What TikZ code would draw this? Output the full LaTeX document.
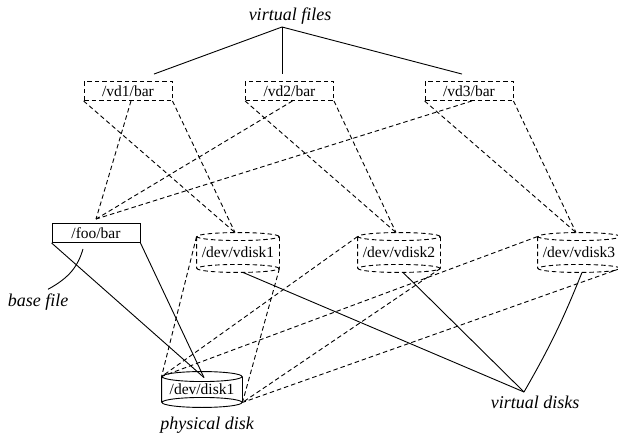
\documentclass[tikz,border=0pt]{standalone}
\usepackage{fontspec}
\setmainfont{Liberation Serif}
\newcommand\drawcyl[4]{%
  \draw[#4] (#1.north) ellipse[x radius=#2, y radius=#3]
                (#1.south) ellipse[x radius=#2, y radius=#3]
                (#1.north west) -- (#1.south west)
                (#1.north east) -- (#1.south east);}
\begin{document}
\begin{tikzpicture}[x=1pt,y=-1pt,line width=0.9pt,
  dsh/.style={dash pattern=on 4.5pt off 3pt},
  boxtext/.style={font=\fontsize{15.5}{17}\selectfont},
  lbl/.style={inner sep=0pt,font=\fontsize{18}{20}\selectfont\itshape},
  filebox/.style={boxtext,draw,minimum width=88pt,minimum height=19pt,inner sep=0pt},
  vfile/.style={filebox,dsh},
  cyl/.style={boxtext,inner sep=0pt,minimum height=31pt,minimum width=82pt},
  pcyl/.style={boxtext,inner sep=0pt,minimum height=25pt,minimum width=80pt},
  link/.style={dsh},
  solidlink/.style={}]
\useasboundingbox (0,0) rectangle (618,438);

% labels
\node[lbl] (vf) at (290,16) {virtual files};
\node[lbl] (bf) at (38,302) {base file};
\node[lbl] (pd) at (207,425) {physical disk};
\node[lbl] (vdl) at (535,402) {virtual disks};
\coordinate (vft) at (282,27);
\coordinate (vdt) at (524,392);

% virtual files
\node[vfile] (vd1) at (128,91) {/vd1/bar};
\node[vfile] (vd2) at (289.5,91) {/vd2/bar};
\node[vfile] (vd3) at (469,91) {/vd3/bar};

% base file
\node[filebox] (foo) at (96,233) {/foo/bar};

% virtual disks
\node[cyl] (vdisk1) at (238,252.5) {/dev/vdisk1};
\node[cyl] (vdisk2) at (399,252.5) {/dev/vdisk2};
\node[cyl] (vdisk3) at (579,252.5) {/dev/vdisk3};
\drawcyl{vdisk1}{41pt}{4pt}{dsh}
\drawcyl{vdisk2}{41pt}{4pt}{dsh}
\drawcyl{vdisk3}{41pt}{4pt}{dsh}

% physical disk
\node[pcyl] (disk1) at (202,389.5) {/dev/disk1};
\drawcyl{disk1}{40pt}{5pt}{}

% virtual files label
\draw[solidlink] (vft) -- ([xshift=26pt,yshift=7pt]vd1.north);
\draw[solidlink] (vft) -- ([xshift=-7.5pt,yshift=7pt]vd2.north);
\draw[solidlink] (vft) -- ([xshift=-7pt,yshift=7pt]vd3.north);

% virtual files to base file and virtual disks
\foreach \i in {1,2,3}{
  \draw[link] (vd\i.south west) -- ([xshift=-3pt,yshift=4pt]vdisk\i.north);
  \draw[link] (vd\i.south east) -- ([xshift=-3pt,yshift=4pt]vdisk\i.north);
  \draw[link] ([xshift=3pt]vd\i.south) -- ([yshift=4pt]foo.north);
  \draw[link] (vdisk\i.north west) -- (disk1.north west);
  \draw[link] (vdisk\i.south east) -- (disk1.south east);
}

% base file to physical disk
\draw[solidlink] (foo.south west) -- ([xshift=2pt,yshift=-1pt]disk1.north);
\draw[solidlink] (foo.south east) -- ([xshift=2pt,yshift=-1pt]disk1.north);

% base file label
\draw[solidlink] ([xshift=10pt,yshift=4pt]bf.north) .. controls +(22,-12) and +(-5,17) .. ([xshift=-13pt,yshift=-6pt]foo.south);

% virtual disks label
\draw[solidlink] ([xshift=5pt,yshift=-4pt]vdisk1.south) -- (vdt);
\draw[solidlink] ([xshift=4pt,yshift=-4pt]vdisk2.south) -- (vdt);
\draw[solidlink] ([xshift=3pt,yshift=-4pt]vdisk3.south) to[bend left=4] (vdt);
\end{tikzpicture}
\end{document}
